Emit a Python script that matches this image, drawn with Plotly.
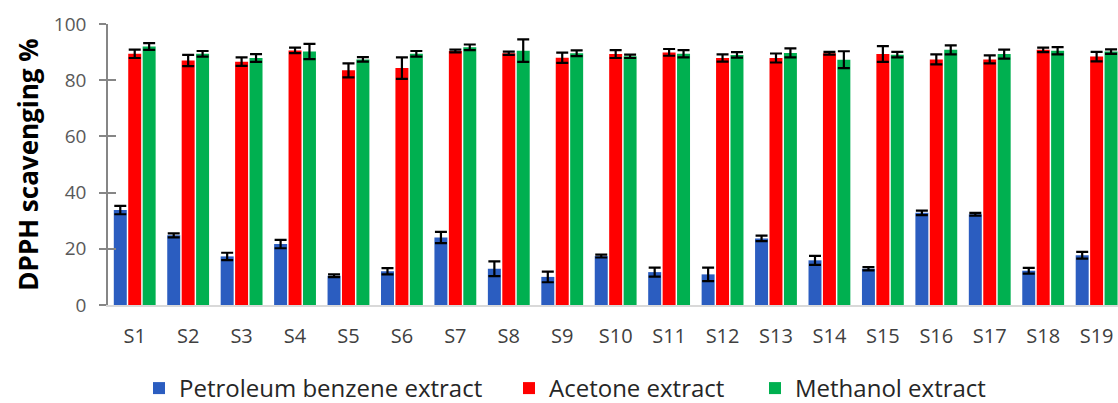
import plotly.graph_objects as go

samples = ["S1", "S2", "S3", "S4", "S5", "S6", "S7", "S8", "S9", "S10",
           "S11", "S12", "S13", "S14", "S15", "S16", "S17", "S18", "S19"]

petroleum = [33.8, 24.8, 17.3, 21.7, 10.4, 12.0, 24.0, 12.9, 10.0, 17.4,
             11.7, 10.9, 23.7, 15.9, 12.9, 32.8, 32.3, 12.2, 17.7]
petroleum_err = [1.5, 0.7, 1.3, 1.5, 0.5, 1.1, 2.0, 2.6, 1.9, 0.5,
                 1.6, 2.4, 1.0, 1.6, 0.6, 0.8, 0.5, 1.0, 1.2]

acetone = [89.4, 87.0, 86.6, 90.6, 83.5, 84.3, 90.4, 89.6, 88.0, 89.3,
           89.9, 87.9, 87.9, 89.6, 89.3, 87.4, 87.4, 90.8, 88.4]
acetone_err = [1.5, 2.0, 1.5, 1.0, 2.5, 3.8, 0.5, 0.6, 1.8, 1.4,
               1.2, 1.3, 1.6, 0.5, 2.8, 1.8, 1.4, 0.8, 1.7]

methanol = [92.0, 89.4, 87.9, 90.2, 87.4, 89.4, 91.7, 90.5, 89.6, 88.5,
            89.4, 89.0, 89.7, 87.3, 89.1, 90.8, 89.3, 90.5, 90.2]
methanol_err = [1.2, 1.0, 1.4, 2.7, 0.8, 1.0, 1.0, 4.0, 1.0, 0.6,
                1.3, 1.0, 1.6, 3.0, 1.0, 1.6, 1.6, 1.3, 0.8]

series = [
    ("Petroleum benzene extract", petroleum, petroleum_err, "#2B5DC0", "legend", 139),
    ("Acetone extract", acetone, acetone_err, "#FF0000", "legend2", 509),
    ("Methanol extract", methanol, methanol_err, "#00B050", "legend3", 755),
]

FONT = "'Open Sans', 'Noto Sans', sans-serif"
W, H = 1118, 403

fig = go.Figure()
legend_layouts = {}
for name, vals, errs, color, leg, lx in series:
    fig.add_trace(go.Bar(
        x=samples, y=vals, name=name, legend=leg,
        marker=dict(color=color, line=dict(width=0)),
        error_y=dict(type="data", array=errs, visible=True,
                     color="black", thickness=2.2, width=6),
    ))
    legend_layouts[leg] = dict(
        orientation="h", x=lx / W, xanchor="left", xref="container",
        y=0.036, yanchor="middle", yref="container",
        font=dict(size=24, color="#262626", family=FONT),
        itemwidth=30, bgcolor="rgba(0,0,0,0)",
    )

# invisible helper trace so the inside-tick overlay axis is drawn
fig.add_trace(go.Scatter(x=[samples[0]], y=[None], yaxis="y2",
                         showlegend=False, hoverinfo="skip", mode="markers"))

fig.update_layout(
    width=W, height=H,
    margin=dict(l=108, r=0, t=24, b=98, autoexpand=False),
    paper_bgcolor="white", plot_bgcolor="white",
    barmode="group", bargap=0.19, bargroupgap=0.1,
    font=dict(family=FONT, color="#404040"),
    showlegend=True,
    xaxis=dict(
        type="category", range=[-0.5, 18.4],
        showline=True, linecolor="#D9D9D9", linewidth=2,
        ticks="", showgrid=False, zeroline=False,
        tickfont=dict(size=20, color="#404040", family=FONT),
        ticklabelstandoff=12,
    ),
    yaxis=dict(
        range=[0, 100], dtick=20, tick0=0,
        showline=True, linecolor="#868686", linewidth=1.5,
        ticks="outside", ticklen=7, tickcolor="#868686", tickwidth=1.5,
        showgrid=False, zeroline=False,
        tickfont=dict(size=19, color="#595959", family=FONT),
        ticklabelstandoff=9,
        title=dict(text="<b>DPPH scavenging %</b>",
                   font=dict(size=26, color="black", family=FONT),
                   standoff=8),
    ),
    yaxis2=dict(
        overlaying="y", anchor="x", side="left",
        range=[0, 100], dtick=20, tick0=0,
        ticks="inside", ticklen=8, tickcolor="#868686", tickwidth=1.5,
        showticklabels=False, showline=False, showgrid=False, zeroline=False,
    ),
    **legend_layouts,
)

fig.write_html("out.html", config={"displayModeBar": False},
               post_script="document.body.style.margin='0';document.body.style.overflow='hidden';")
